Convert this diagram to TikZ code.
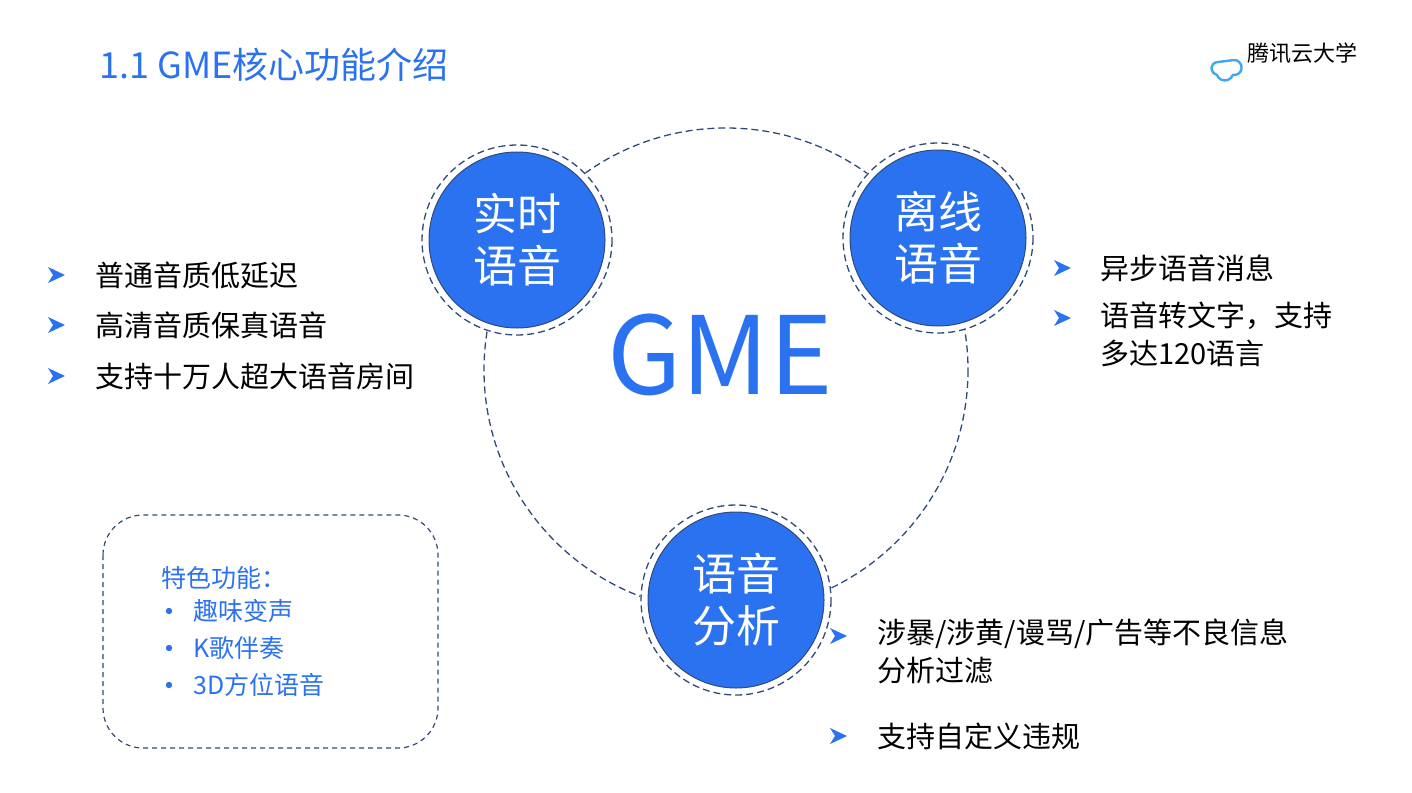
\documentclass[tikz,border=0pt]{standalone}
\usepackage{fontspec}
\setmainfont{Noto Sans CJK SC}
\usetikzlibrary{positioning}
\definecolor{gmeblue}{HTML}{2B72F0}
\definecolor{ringblue}{HTML}{2F4A7A}
\definecolor{cloudblue}{HTML}{3FA8F0}
\tikzset{
  ring/.style={draw=ringblue,line width=1.3pt,dash pattern=on 7pt off 4pt},
  core/.style={circle,fill=gmeblue,draw=ringblue,line width=1pt,minimum size=176pt,
    text=white,font=\fontsize{44}{52}\selectfont,align=center},
  item/.style={anchor=west,font=\fontsize{29}{38}\selectfont,align=left},
  feat/.style={anchor=west,text=gmeblue,font=\fontsize{25}{28}\selectfont}
}
\newcommand\chev[1]{\fill[gmeblue] #1 ++(-8,-8) -- ++(17,8) -- ++(-17,8) -- ++(5,-8) -- cycle;}
\begin{document}
\begin{tikzpicture}[x=1pt,y=-1pt]
  \useasboundingbox (0,0) rectangle (1412,792);
  % title and logo
  \node[anchor=west,text=gmeblue,font=\fontsize{36}{40}\selectfont] (title) at (96,65) {1.1 GME核心功能介绍};
  \node[anchor=west,font=\fontsize{22}{26}\selectfont] (logo) at (1244,53) {腾讯云大学};
  \draw[cloudblue,line width=2.4pt,line join=round] (1218,62) arc (270:100:6.5) arc (160:20:8.5) arc (100:-90:7.5) -- cycle;
  % big ring
  \draw[ring] (726,370) circle (242);
  \node[text=gmeblue,font=\fontsize{108}{110}\selectfont] (gme) at (720,355) {GME};
  % three cores
  \foreach \name/\pos/\txt in {rt/{(517,240)}/实时\\语音, off/{(938,238)}/离线\\语音, ana/{(736,600)}/语音\\分析}{
    \fill[white] \pos circle (96);
    \draw[ring] \pos circle (95);
    \node[core] (\name) at \pos {\txt};
  }
  % left list
  \foreach \y/\t in {275/普通音质低延迟, 325/高清音质保真语音, 376/支持十万人超大语音房间}{
    \chev{(56,\y)}
    \node[item] at (92,\y) {\t};
  }
  % right list
  \chev{(1062,268)}
  \node[item] (r1) at (1097,268) {异步语音消息};
  \chev{(1062,318)}
  \node[item,anchor=north west] (r2) at (1097,298) {语音转文字，支持\\多达120语言};
  % bottom list
  \chev{(838,636)}
  \node[item,anchor=north west] (b1) at (874,615) {涉暴/涉黄/谩骂/广告等不良信息\\分析过滤};
  \chev{(838,736)}
  \node[item] (b2) at (874,736) {支持自定义违规};
  % feature box
  \draw[ring,line width=1.2pt,dash pattern=on 5pt off 4pt,rounded corners=40pt] (103,515) rectangle (438,748);
  \node[feat] (fh) at (158,578) {特色功能：};
  \foreach \y/\t in {611/趣味变声, 648/K歌伴奏, 685/3D方位语音}{
    \fill[gmeblue] (169,\y) circle (3.2);
    \node[feat] at (190,\y) {\t};
  }
\end{tikzpicture}
\end{document}
